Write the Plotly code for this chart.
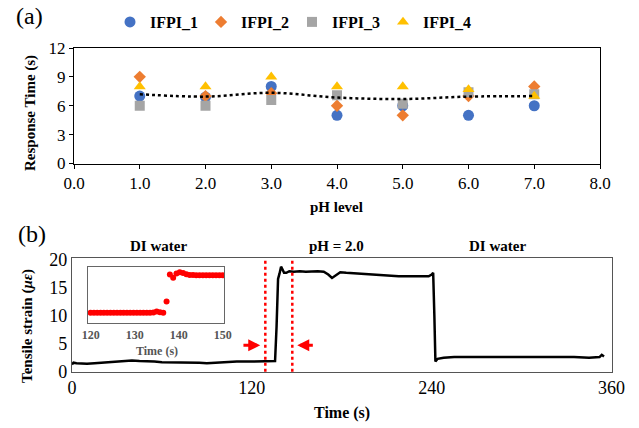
import plotly.graph_objects as go

W, H = 639, 428
SERIF = "Liberation Serif"

# ---------------- Panel (a) data ----------------
ph = [1, 2, 3, 4, 5, 6, 7]
ifpi_1 = [7.0, 6.9, 8.0, 5.0, 6.0, 5.0, 6.0]
ifpi_2 = [9.0, 7.0, 7.3, 6.0, 5.0, 7.0, 8.0]
ifpi_3 = [6.0, 6.0, 6.6, 7.1, 6.2, 7.4, 7.2]
ifpi_4 = [8.0, 8.0, 9.0, 8.0, 8.0, 7.7, 7.0]
trend = [7.2, 6.95, 7.35, 6.85, 6.7, 6.95, 7.0]
ph_ticks = [0, 1, 2, 3, 4, 5, 6, 7, 8]
rt_ticks = [0, 3, 6, 9, 12]

# ---------------- Panel (b) data ----------------
t_main = [0, 1, 3, 6, 10, 15, 20, 25, 30, 35, 40, 45, 50, 55, 60, 65, 70, 75, 80, 85,
          90, 95, 100, 105, 110, 115, 120, 125, 130, 134, 135.5, 136.5, 137.5, 138.5,
          139.5, 140.5, 141.5, 143, 145, 148, 152, 156, 160, 164, 168, 171, 173.5, 176,
          179, 183, 188, 193, 198, 203, 208, 213, 218, 223, 228, 233, 238, 240, 241,
          241.8, 242.5, 244, 248, 255, 265, 275, 285, 295, 305, 315, 325, 335, 345, 350,
          352, 353.5, 355]
strain = [1.3, 1.6, 1.5, 1.4, 1.4, 1.5, 1.6, 1.8, 1.9, 2.0, 2.0, 1.9, 1.9, 1.8, 1.7, 1.7,
          1.6, 1.6, 1.7, 1.6, 1.5, 1.6, 1.7, 1.7, 1.8, 1.8, 1.8, 1.8, 1.8, 1.8, 1.9, 8.0,
          16.5, 17.5, 18.7, 18.2, 17.6, 17.6, 17.9, 17.8, 17.9, 17.8, 17.9, 17.9, 17.8,
          17.3, 16.7, 17.2, 17.7, 17.6, 17.5, 17.4, 17.3, 17.3, 17.2, 17.1, 17.0, 17.0,
          17.0, 17.0, 17.0, 17.3, 17.6, 10.0, 1.8, 2.3, 2.5, 2.6, 2.6, 2.6, 2.7, 2.7, 2.7,
          2.7, 2.6, 2.6, 2.5, 2.5, 2.6, 3.0, 2.7]
time_ticks = [0, 120, 240, 360]
strain_ticks = [0, 5, 10, 15, 20]
marker_times = [129, 147]

# inset (zoom 120-150 s)
t_inset = [120, 120.75, 121.5, 122.25, 123, 123.75, 124.5, 125.25, 126, 126.75, 127.5,
           128.25, 129, 129.75, 130.5, 131.25, 132, 132.75, 133.5, 134.25, 135, 135.75,
           136.5, 137.25, 138, 138.75, 139.5, 140.25, 141, 141.75, 142.5, 143.25, 144,
           144.75, 145.5, 146.25, 147, 147.75, 148.5, 149.25, 150]
s_inset = [2.0, 2.0, 2.0, 2.0, 2.0, 2.0, 2.0, 2.0, 2.0, 2.0, 2.0, 2.0, 2.0, 2.0, 2.0,
           2.0, 2.0, 2.0, 2.0, 2.1, 2.5, 2.2, 2.0, 6.7, 18.2, 16.8, 18.6, 19.1, 18.8,
           18.3, 18.0, 18.0, 17.9, 17.9, 17.9, 17.9, 17.9, 17.9, 17.9, 17.9, 17.9]
inset_ticks = [120, 130, 140, 150]


def px(x):
    return x / W


def py(y):
    return 1 - y / H


fig = go.Figure()

series = [
    ("IFPI_1", ifpi_1, "#4472C4", "circle", 11),
    ("IFPI_2", ifpi_2, "#ED7D31", "diamond", 9.5),
    ("IFPI_3", ifpi_3, "#A5A5A5", "square", 10),
    ("IFPI_4", ifpi_4, "#FFC000", "triangle-up", 10.5),
]
for name, vals, col, sym, sz in series:
    fig.add_trace(go.Scatter(x=ph, y=vals, mode="markers", name=name,
                             marker=dict(color=col, symbol=sym, size=sz, line=dict(width=0)),
                             xaxis="x", yaxis="y"))
fig.add_trace(go.Scatter(x=ph, y=trend, mode="lines", showlegend=False,
                         line=dict(color="black", width=2.5, dash="dot", shape="spline"),
                         xaxis="x", yaxis="y"))

fig.add_trace(go.Scatter(x=t_main, y=strain, mode="lines", showlegend=False,
                         line=dict(color="black", width=2.5),
                         xaxis="x2", yaxis="y2"))
fig.add_trace(go.Scatter(x=t_inset, y=s_inset, mode="markers", showlegend=False,
                         marker=dict(color="#FF0000", size=6),
                         xaxis="x3", yaxis="y3"))

tickfont = dict(family=SERIF, size=17, color="black")
tickfont_b = dict(family=SERIF, size=18, color="black")
fig.update_layout(
    width=W, height=H,
    margin=dict(l=0, r=0, t=0, b=0, autoexpand=False),
    paper_bgcolor="white", plot_bgcolor="white",
    font=dict(family=SERIF, color="black"),
    showlegend=True,
    legend=dict(orientation="h", x=px(110), y=py(22), xanchor="left", yanchor="middle",
                font=dict(family=SERIF, size=16, color="black", weight="bold"),
                entrywidth=46, entrywidthmode="pixels", itemsizing="trace",
                bgcolor="rgba(0,0,0,0)", tracegroupgap=0),
    xaxis=dict(domain=[px(74), px(600)], range=[0, 8], tickvals=ph_ticks, tickformat=".1f",
               showline=True, mirror=True, linecolor="black", linewidth=1.2,
               ticks="outside", ticklen=4, tickcolor="black", tickfont=tickfont,
               showgrid=False, zeroline=False, anchor="y"),
    yaxis=dict(domain=[py(163.5), py(48)], range=[0, 12], tickvals=rt_ticks,
               showline=True, mirror=True, linecolor="black", linewidth=1.2,
               ticks="outside", ticklen=4, tickcolor="black", tickfont=tickfont,
               showgrid=False, zeroline=False, anchor="x"),
    xaxis2=dict(domain=[px(72), px(611.5)], range=[0, 360], tickvals=time_ticks,
                showline=True, mirror=True, linecolor="#555555", linewidth=1.2,
                ticks="", tickfont=tickfont_b,
                showgrid=False, zeroline=False, anchor="y2"),
    yaxis2=dict(domain=[py(371.7), py(257.7)], range=[0, 20.3], tickvals=strain_ticks,
                showline=True, mirror=True, linecolor="#555555", linewidth=1.2,
                ticks="", tickfont=tickfont_b,
                showgrid=False, zeroline=False, anchor="x2"),
    xaxis3=dict(domain=[px(88), px(224)], range=[119.4, 150.3], tickvals=inset_ticks,
                showline=True, mirror=True, linecolor="#666666", linewidth=1,
                ticks="", tickfont=dict(family=SERIF, size=12, color="#555555", weight="bold"),
                showgrid=False, zeroline=False, anchor="y3"),
    yaxis3=dict(domain=[py(323.3), py(266.7)], range=[-2.5, 21.5],
                showline=True, mirror=True, linecolor="#666666", linewidth=1,
                showticklabels=False, ticks="",
                showgrid=False, zeroline=False, anchor="x3"),
)

for xt in marker_times:
    fig.add_shape(type="line", xref="x2", yref="y2 domain", x0=xt, x1=xt, y0=0, y1=1,
                  line=dict(color="#FF0000", width=2.5, dash="dot"))

# arrows toward the dotted markers
fig.add_annotation(x=125.6, y=4.7, ax=113.4, ay=4.7, xref="x2", yref="y2",
                   axref="x2", ayref="y2", text="", showarrow=True, arrowhead=2,
                   arrowsize=0.8, arrowwidth=3, arrowcolor="#FF0000")
fig.add_annotation(x=150.3, y=4.7, ax=161.7, ay=4.7, xref="x2", yref="y2",
                   axref="x2", ayref="y2", text="", showarrow=True, arrowhead=2,
                   arrowsize=0.8, arrowwidth=3, arrowcolor="#FF0000")


def label(text, x, y, size, bold=True, angle=0, color="black"):
    fig.add_annotation(x=px(x), y=py(y), xref="paper", yref="paper", text=text,
                       showarrow=False, textangle=angle, xanchor="center", yanchor="middle",
                       font=dict(family=SERIF, size=size, color=color,
                                 weight="bold" if bold else "normal"))


label("(a)", 29, 16, 24, bold=False)
label("(b)", 32, 234, 24, bold=False)
label("Response Time (s)", 31, 113, 15, angle=-90)
label("pH level", 337, 207, 15)
label("Tensile strain (<i>με</i>)", 27, 326, 15, angle=-90)
label("Time (s)", 342, 413, 16)
label("DI water", 158, 246, 15)
label("pH = 2.0", 337, 246, 15)
label("DI water", 497, 246, 15)
label("Time (s)", 157, 351, 12, color="#555555")

fig.write_html("out.html")
